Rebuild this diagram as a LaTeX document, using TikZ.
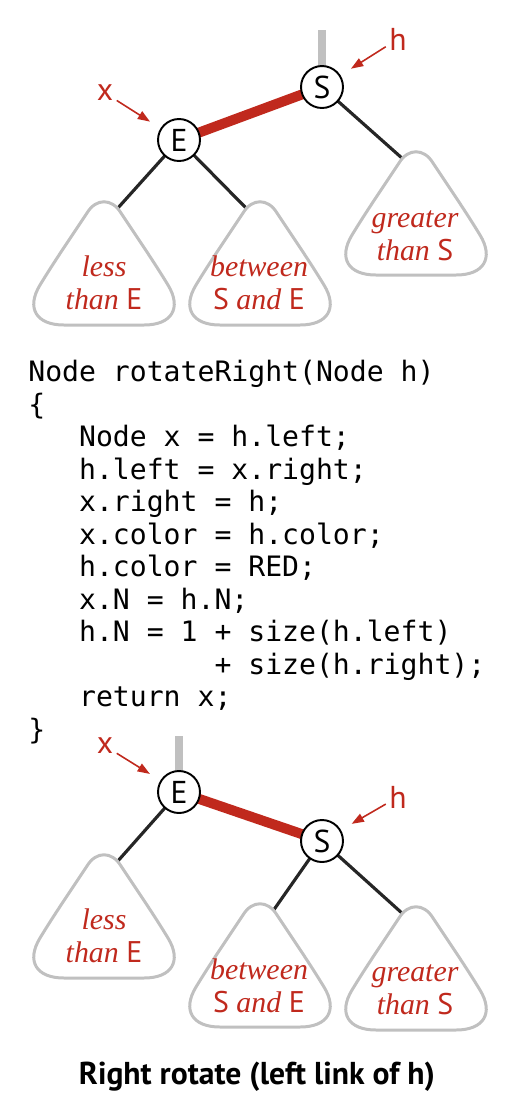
\documentclass[tikz,border=0pt]{standalone}
\usepackage{fontspec}
\setmainfont{Liberation Serif}
\setsansfont{PT Sans}
\setmonofont{DejaVu Sans Mono}
\usepackage{xcolor}
\usetikzlibrary{arrows.meta,backgrounds}

\definecolor{rbred}{RGB}{192,41,29}
\definecolor{linkgray}{RGB}{192,192,192}

\tikzset{
    subtree/.pic={
        \draw[treeshape] (-17,13) .. controls (-35,40) and (-50,62) .. (-64,85)
            .. controls (-78,108) and (-68,125) .. (-40,125)
            -- (40,125) .. controls (68,125) and (78,108) .. (64,85)
            .. controls (50,62) and (35,40) .. (17,13)
            .. controls (8,-2) and (-8,-2) .. cycle;
        \coordinate (-l) at (-13,9);
        \coordinate (-r) at (13,9);
    }
}

\begin{document}
\begin{tikzpicture}[
    x=0.02cm, y=-0.02cm,
    >={Triangle[length=7pt,width=5pt]},
    keynode/.style={circle, draw, line width=1.1pt, fill=white, minimum size=0.84cm, inner sep=0pt, font=\sffamily\fontsize{18}{18}\selectfont},
    edge/.style={line width=1.8pt, black!85},
    redlink/.style={line width=5.7pt, rbred},
    stub/.style={line width=4pt, linkgray},
    treeshape/.style={line width=1.7pt, linkgray, fill=white},
    pointer/.style={->, rbred, line width=0.9pt, shorten >=7pt, shorten <=1pt},
    ptrlabel/.style={text=rbred, inner sep=1pt, font=\sffamily\fontsize{18}{18}\selectfont},
    treelabel/.style={text=rbred, align=center, inner sep=0pt, font=\itshape\fontsize{17}{19}\selectfont},
    codebox/.style={anchor=north west, align=left, inner sep=0pt, font=\ttfamily\fontsize{16}{18.5}\selectfont},
    caption/.style={font=\sffamily\bfseries\fontsize{18}{18}\selectfont}
]
\useasboundingbox (0,0) rectangle (518,1107);

% Before rotation
\node[keynode] (S1) at (322,87) {S};
\node[keynode] (E1) at (179,140) {E};
\coordinate (top1) at (322,30);
\pic (t1) at (104,200) {subtree};
\pic (t2) at (260,200) {subtree};
\pic (t3) at (416,150) {subtree};
\node[treelabel] (less1) at (104,283) {less\\than \textup{\sffamily E}};
\node[treelabel] (betw1) at (259,283) {between\\\textup{\sffamily S} and \textup{\sffamily E}};
\node[treelabel] (grt1) at (415,236) {greater\\than \textup{\sffamily S}};
\node[ptrlabel] (x1) at (105,93) {x};
\node[ptrlabel] (h1) at (398,39) {h};

\begin{scope}[on background layer]
    \draw[stub] (top1) -- (S1.center);
    \draw[redlink] (E1.center) -- (S1.center);
    \draw[edge] (E1.center) -- (t1-r);
    \draw[edge] (E1.center) -- (t2-l);
    \draw[edge] (S1.center) -- (t3-l);
\end{scope}
\draw[pointer] (x1) -- (E1);
\draw[pointer] (h1) -- (S1);

% Code
\node[codebox] (code) at (28,360) {%
Node rotateRight(Node h)\\
\{\\
\phantom{xxx}Node x = h.left;\\
\phantom{xxx}h.left = x.right;\\
\phantom{xxx}x.right = h;\\
\phantom{xxx}x.color = h.color;\\
\phantom{xxx}h.color = RED;\\
\phantom{xxx}x.N = h.N;\\
\phantom{xxx}h.N = 1 + size(h.left)\\
\phantom{xxxxxxxxxxx}+ size(h.right);\\
\phantom{xxx}return x;\\
\}};

% After rotation
\node[keynode] (E2) at (179,792) {E};
\node[keynode] (S2) at (322,841) {S};
\coordinate (top2) at (179,736);
\pic (b1) at (104,853) {subtree};
\pic (b2) at (260,902) {subtree};
\pic (b3) at (416,905) {subtree};
\node[treelabel] (less2) at (104,936) {less\\than \textup{\sffamily E}};
\node[treelabel] (betw2) at (259,986) {between\\\textup{\sffamily S} and \textup{\sffamily E}};
\node[treelabel] (grt2) at (415,990) {greater\\than \textup{\sffamily S}};
\node[ptrlabel] (x2) at (105,746) {x};
\node[ptrlabel] (h2) at (398,797) {h};

\begin{scope}[on background layer]
    \draw[stub] (top2) -- (E2.center);
    \draw[redlink] (E2.center) -- (S2.center);
    \draw[edge] (E2.center) -- (b1-r);
    \draw[edge] (S2.center) -- (b2-r);
    \draw[edge] (S2.center) -- (b3-l);
\end{scope}
\draw[pointer] (x2) -- (E2);
\draw[pointer] (h2) -- (S2);

\node[caption] (cap) at (257,1077) {Right rotate (left link of h)};

\end{tikzpicture}
\end{document}
